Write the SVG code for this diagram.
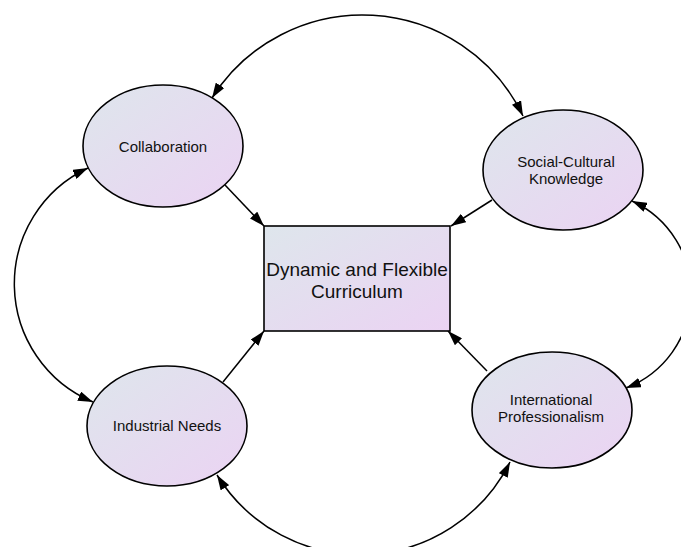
<svg xmlns="http://www.w3.org/2000/svg" width="681" height="547" viewBox="0 0 681 547">
  <style>
    .node { stroke: #000; stroke-width: 1.6; }
    .lbl { font-family: "Liberation Sans", Arial, sans-serif; font-size: 15px; fill: #111; text-anchor: middle; }
    .big { font-size: 19px; }
    .edge { fill: none; stroke: #000; stroke-width: 1.5; }
    .one { marker-end: url(#head); }
    .two { marker-start: url(#head); marker-end: url(#head); }
  </style>
  <defs>
    <linearGradient id="fillGrad" x1="0" y1="0" x2="1" y2="1">
      <stop offset="0" stop-color="#dee6ec"/>
      <stop offset="1" stop-color="#ebd3f3"/>
    </linearGradient>
    <marker id="head" viewBox="0 0 15 10" markerUnits="userSpaceOnUse" markerWidth="15" markerHeight="10" refX="15" refY="5" orient="auto-start-reverse">
      <path d="M0,0 L15,5 L0,10 z" fill="#000"/>
    </marker>
  </defs>

  <rect width="681" height="547" fill="#fff"/>

  <g id="connectors">
    <!-- spokes into the curriculum box -->
    <path class="edge one" d="M225,185 L264,226"/>
    <path class="edge one" d="M492,200 L451,226"/>
    <path class="edge one" d="M223,382 L264,331"/>
    <path class="edge one" d="M487,371 L448,331"/>
    <!-- outer ring, two-way links -->
    <path class="edge two" d="M212,98 A178,178 0 0 1 523,116"/>
    <path class="edge two" d="M88,168 A128,128 0 0 0 93,402"/>
    <path class="edge two" d="M632,201 A101.5,101.5 0 0 1 626,388"/>
    <path class="edge two" d="M217,475 A168,168 0 0 0 510,462"/>
  </g>

  <g id="curriculum">
    <rect class="node" x="264" y="226" width="186" height="105" fill="url(#fillGrad)"/>
    <text class="lbl big" x="357" y="276">Dynamic and Flexible</text>
    <text class="lbl big" x="357" y="298">Curriculum</text>
  </g>

  <g id="collaboration">
    <ellipse class="node" cx="163" cy="146" rx="80" ry="61" fill="url(#fillGrad)"/>
    <text class="lbl" x="163" y="152">Collaboration</text>
  </g>

  <g id="social-cultural">
    <ellipse class="node" cx="563" cy="170" rx="80" ry="60" fill="url(#fillGrad)"/>
    <text class="lbl" x="566" y="167">Social-Cultural</text>
    <text class="lbl" x="566" y="184">Knowledge</text>
  </g>

  <g id="industrial">
    <ellipse class="node" cx="167" cy="426" rx="80" ry="60" fill="url(#fillGrad)"/>
    <text class="lbl" x="167" y="431">Industrial Needs</text>
  </g>

  <g id="international">
    <ellipse class="node" cx="552" cy="410" rx="80" ry="58" fill="url(#fillGrad)"/>
    <text class="lbl" x="551" y="405">International</text>
    <text class="lbl" x="551" y="422">Professionalism</text>
  </g>
</svg>
